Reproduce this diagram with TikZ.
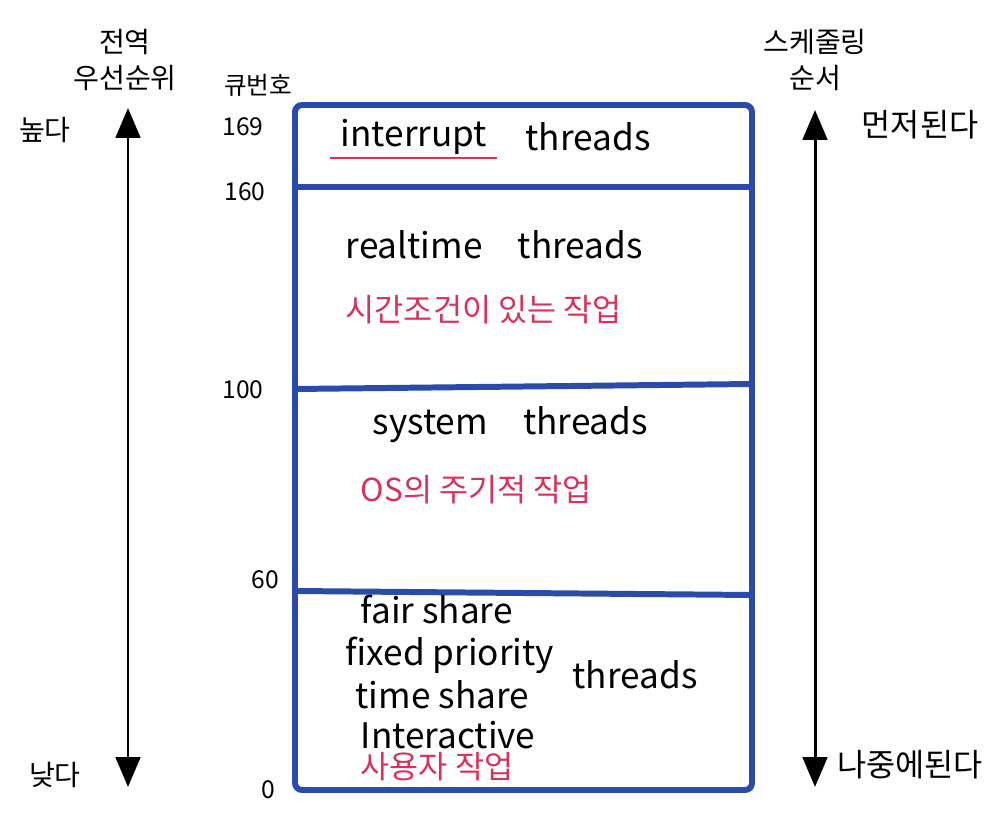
\documentclass[tikz,border=0pt]{standalone}
\usepackage{fontspec}
\usepackage{tikz}
\usetikzlibrary{arrows.meta}
\newfontfamily\kr{Noto Sans CJK KR}
\definecolor{qblue}{RGB}{42,75,168}
\definecolor{qred}{RGB}{214,50,90}
\begin{document}
\begin{tikzpicture}[x=0.01cm,y=-0.01cm,
 side/.style={font=\kr\fontsize{8}{10}\selectfont,inner sep=0pt,align=center},
 qnum/.style={font=\kr\fontsize{7}{8}\selectfont,inner sep=0pt},
 thr/.style={font=\kr\fontsize{10}{12}\selectfont,inner sep=0pt,anchor=west},
 job/.style={font=\kr\fontsize{9}{10}\selectfont,text=qred,inner sep=0pt,anchor=west},
 level/.style={draw=qblue,line width=1.7pt},
 axis/.style={line width=0.85pt,{Triangle[width=7pt,length=8.5pt]}-{Triangle[width=7pt,length=8.5pt]}}
]
\useasboundingbox (0,0) rectangle (1000,837);

% queue box and level lines
\draw[level,rounded corners=2pt] (295,105) rectangle (752,790);
\draw[level] (295,187)--(752,187);
\draw[level] (295,389)--(752,384);
\draw[level] (295,591)--(752,595);

% left axis: global priority
\node[side] (prio) at (125,60) {전역\\우선순위};
\node[side] (high) at (45,130) {높다};
\node[side] (low) at (55,775) {낮다};
\coordinate (ptop) at (128,108);
\coordinate (pbot) at (128,787);
\draw[axis] (ptop)--(pbot);

% queue numbers
\node[qnum] (qno) at (258,85) {큐번호};
\node[qnum] (q169) at (243,127) {169};
\node[qnum] (q160) at (245,192) {160};
\node[qnum] (q100) at (243,390) {100};
\node[qnum] (q60) at (265,580) {60};
\node[qnum] (q0) at (268,790) {0};

% right axis: scheduling order
\node[side] (order) at (815,60) {스케줄링\\순서};
\node[side,font=\kr\fontsize{9}{10}\selectfont] (first) at (920,125) {먼저된다};
\node[side,font=\kr\fontsize{9}{10}\selectfont] (later) at (910,765) {나중에된다};
\coordinate (otop) at (815,110);
\coordinate (obot) at (815,787);
\draw[axis] (otop)--(obot);

% thread classes
\node[thr] (irq) at (340,137) {interrupt};
\node[thr] (irqt) at (525,137) {threads};
\coordinate (ul1) at (330,158);
\coordinate (ul2) at (497,158);
\draw[qred,line width=0.8pt] (ul1)--(ul2);
\node[thr] (rt) at (345,245) {realtime\quad threads};
\node[job] (rtjob) at (345,310) {시간조건이 있는 작업};
\node[thr] (sys) at (372,425) {system\quad threads};
\node[job] (sysjob) at (360,490) {OS의 주기적 작업};
\node[thr] (fss) at (360,610) {fair share};
\node[thr] (fx) at (345,655) {fixed priority};
\node[thr] (ts) at (355,695) {time share};
\node[thr] (ia) at (360,735) {Interactive};
\node[job] (usrjob) at (360,767) {사용자 작업};
\node[thr] (usrt) at (572,675) {threads};
\end{tikzpicture}
\end{document}
